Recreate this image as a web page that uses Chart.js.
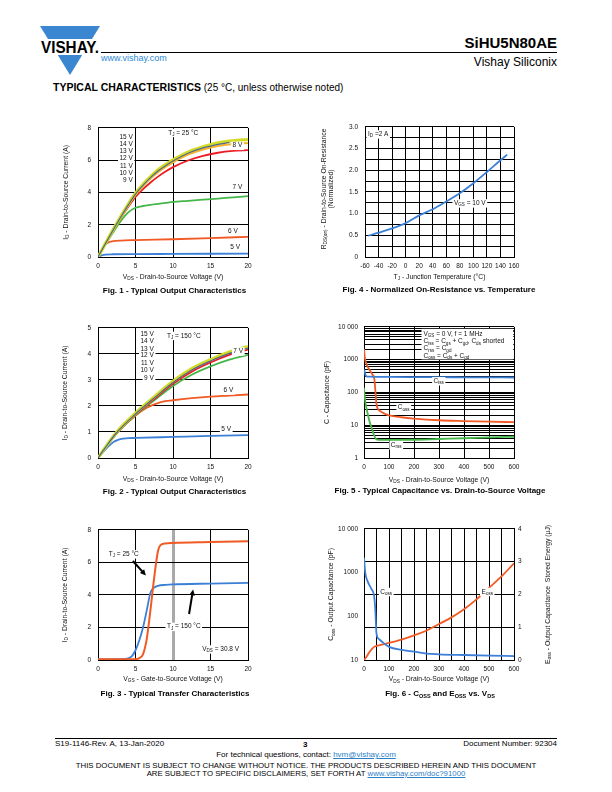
<!DOCTYPE html>
<html>
<head>
<meta charset="utf-8">
<title>SiHU5N80AE - Typical Characteristics</title>
<script src="https://cdn.jsdelivr.net/npm/chart.js@4.4.1/dist/chart.umd.min.js"></script>
<style>
  html, body { margin: 0; padding: 0; background: #fff; }
  body { position: relative; width: 612px; height: 792px; overflow: hidden; font-family: "Liberation Sans", Arial, sans-serif; color: #000; }
  .t { position: absolute; white-space: nowrap; line-height: 1; }
  .cap { position: absolute; width: 300px; text-align: center; font-weight: bold; font-size: 8px; line-height: 1; white-space: nowrap; }
  .cap sub { font-size: 5.5px; vertical-align: -1.5px; line-height: 0; }
  .rule { position: absolute; height: 0; border-top: 1px solid #000; }
  canvas { position: absolute; }
  a { color: #2d7fc8; }
</style>
</head>
<body>

<svg class="t" style="left:40px;top:26px" width="62" height="50">
  <polygon points="0,0 60,0 52,13 8,13" fill="#3b86d1"/>
  <polygon points="17.8,29 42.2,29 30,49" fill="#3b86d1"/>
  <text x="30" y="27" text-anchor="middle" font-family="Liberation Sans, Arial, sans-serif" font-weight="bold" font-size="16" textLength="58" lengthAdjust="spacingAndGlyphs">VISHAY.</text>
</svg>
<div class="rule" style="left:101px;top:52px;width:456px"></div>
<div class="t" style="left:101px;top:53.5px;font-size:9px;color:#2d8ad6">www.vishay.com</div>
<div class="t" style="right:55px;top:34.5px;font-size:15px;font-weight:bold">SiHU5N80AE</div>
<div class="t" style="right:55px;top:56px;font-size:12px">Vishay Siliconix</div>
<div class="t" style="left:53px;top:82px;font-size:10px"><b style="font-size:10.5px">TYPICAL CHARACTERISTICS</b> (25 °C, unless otherwise noted)</div>

<canvas id="fig1"></canvas>
<canvas id="fig4"></canvas>
<canvas id="fig2"></canvas>
<canvas id="fig5"></canvas>
<canvas id="fig3"></canvas>
<canvas id="fig6"></canvas>

<div class="cap" style="left:24.5px;top:287px">Fig. 1 - Typical Output Characteristics</div>
<div class="cap" style="left:289px;top:286px">Fig. 4 - Normalized On-Resistance vs. Temperature</div>
<div class="cap" style="left:24.5px;top:488px">Fig. 2 - Typical Output Characteristics</div>
<div class="cap" style="left:290px;top:487px">Fig. 5 - Typical Capacitance vs. Drain-to-Source Voltage</div>
<div class="cap" style="left:25px;top:690px">Fig. 3 - Typical Transfer Characteristics</div>
<div class="cap" style="left:290px;top:690px">Fig. 6 - C<sub>OSS</sub> and E<sub>OSS</sub> vs. V<sub>DS</sub></div>

<div class="rule" style="left:55px;top:738px;width:502px"></div>
<div class="t" style="left:55px;top:740px;font-size:8px">S19-1146-Rev. A, 13-Jan-2020</div>
<div class="t" style="left:303px;top:740.5px;font-size:8px;font-weight:bold">3</div>
<div class="t" style="right:55px;top:740px;font-size:8px">Document Number: 92304</div>
<div class="t" style="left:0;width:612px;text-align:center;top:751px;font-size:8px">For technical questions, contact: <a href="mailto:hvm@vishay.com">hvm@vishay.com</a></div>
<div class="t" style="left:0;width:612px;text-align:center;top:762px;font-size:7.8px">THIS DOCUMENT IS SUBJECT TO CHANGE WITHOUT NOTICE. THE PRODUCTS DESCRIBED HEREIN AND THIS DOCUMENT</div>
<div class="t" style="left:0;width:612px;text-align:center;top:770px;font-size:7.8px">ARE SUBJECT TO SPECIFIC DISCLAIMERS, SET FORTH AT <a href="#">www.vishay.com/doc?91000</a></div>

<script>
// ---- data ----

// Fig. 1 - output characteristics, TJ = 25 °C
const fig1Vds = [0, 1, 2, 3, 4, 5, 6, 7, 8, 9, 10, 12, 14, 16, 18, 20];
const fig1VdsShort = [0, 1, 2, 3, 4, 5, 6, 7, 8, 9, 10, 12, 14, 16, 17.5];
const fig1Id15V = [0, 0.85, 1.68, 2.48, 3.25, 3.95, 4.5, 4.98, 5.4, 5.73, 6.02, 6.5, 6.83, 7.07, 7.2, 7.28];
const fig1Id12V = [0, 0.84, 1.66, 2.45, 3.2, 3.9, 4.44, 4.92, 5.33, 5.66, 5.95, 6.43, 6.76, 6.98, 7.1];
const fig1Id9V = [0, 0.84, 1.65, 2.43, 3.17, 3.86, 4.4, 4.86, 5.26, 5.58, 5.87, 6.34, 6.66, 6.88, 7.0, 7.07];
const fig1Id8V = [0, 0.82, 1.62, 2.38, 3.08, 3.72, 4.2, 4.62, 4.98, 5.3, 5.57, 5.98, 6.27, 6.46, 6.57, 6.62];
const fig1Id7V = [0, 0.78, 1.52, 2.2, 2.75, 3.05, 3.16, 3.23, 3.29, 3.35, 3.41, 3.48, 3.55, 3.62, 3.7, 3.77];
const fig1Vds6 = [0, 0.5, 1, 1.5, 2, 3, 5, 10, 15, 20];
const fig1Id6V = [0, 0.4, 0.78, 0.93, 0.98, 1.02, 1.05, 1.1, 1.17, 1.25];
const fig1Vds5 = [0, 0.5, 1, 2, 5, 10, 15, 20];
const fig1Id5V = [0, 0.1, 0.15, 0.17, 0.18, 0.19, 0.2, 0.21];

// Fig. 2 - output characteristics, TJ = 150 °C
const fig2Vds = [0, 1, 2.5, 5, 7.5, 10, 12.5, 15, 17.5, 20];
const fig2Id15V = [0, 0.42, 1.0, 1.72, 2.35, 2.95, 3.43, 3.78, 4.07, 4.28];
const fig2Id12V = [0, 0.41, 0.98, 1.69, 2.31, 2.9, 3.38, 3.73, 4.02, 4.22];
const fig2Id8V = [0, 0.4, 0.96, 1.66, 2.27, 2.85, 3.32, 3.67, 3.96, 4.17];
const fig2Id7V = [0, 0.4, 0.95, 1.64, 2.22, 2.77, 3.2, 3.52, 3.78, 3.97];
const fig2Vds6 = [0, 1, 2.5, 5, 6.5, 7.5, 8.5, 10, 12.5, 15, 17.5, 20];
const fig2Id6V = [0, 0.4, 0.95, 1.63, 1.93, 2.06, 2.16, 2.22, 2.3, 2.36, 2.4, 2.44];
const fig2Vds5 = [0, 1, 2, 2.5, 3, 4, 5, 10, 15, 20];
const fig2Id5V = [0, 0.33, 0.6, 0.68, 0.73, 0.76, 0.77, 0.81, 0.85, 0.88];
const gateLabels = ['15 V', '14 V', '13 V', '12 V', '11 V', '10 V', '9 V'];

// Fig. 3 - transfer characteristics
const fig3Vgs25 = [0, 4, 5, 5.5, 6, 6.5, 7, 7.5, 8, 8.3, 9, 10, 15, 20];
const fig3Id25 = [0.04, 0.04, 0.05, 0.12, 0.35, 1.3, 3.1, 5.1, 6.7, 7.05, 7.17, 7.2, 7.25, 7.3];
const fig3Vgs150 = [0, 3.5, 4, 4.5, 5, 5.5, 6, 6.5, 7, 7.5, 8, 9, 10, 15, 20];
const fig3Id150 = [0.04, 0.05, 0.1, 0.22, 0.6, 1.2, 2.0, 3.05, 4.15, 4.45, 4.56, 4.62, 4.65, 4.7, 4.74];

// Fig. 4 - normalized on-resistance
const fig4Temp = [-55, -40, -20, 0, 20, 40, 60, 80, 100, 120, 140, 150];
const fig4Rds = [0.49, 0.56, 0.66, 0.78, 0.96, 1.1, 1.28, 1.47, 1.7, 1.96, 2.23, 2.36];

// Fig. 5 - capacitances
const fig5CissV = [0, 3, 6, 10, 20, 50, 100, 200, 300, 400, 500, 600];
const fig5Ciss = [500, 420, 340, 310, 304, 300, 297, 294, 292, 290, 288, 286];
const fig5CossV = [0, 3, 8, 15, 25, 35, 40, 43, 46, 50, 55, 65, 80, 100, 150, 200, 300, 400, 500, 600];
const fig5Coss = [2100, 1200, 800, 600, 450, 340, 290, 200, 100, 45, 32, 27, 23, 20, 17.5, 16, 14.2, 13.4, 12.8, 12.4];
const fig5CrssV = [0, 3, 6, 10, 15, 20, 25, 30, 40, 50, 70, 100, 200, 300, 400, 500, 600];
const fig5Crss = [140, 75, 48, 33, 22, 15, 11, 8.5, 5, 3.7, 3.55, 3.55, 3.6, 3.8, 4.0, 4.25, 4.45];

// Fig. 6 - Coss and Eoss
const fig6CossV = [0, 5, 15, 30, 40, 45, 50, 60, 80, 100, 150, 200, 250, 300, 400, 500, 600];
const fig6Coss = [2200, 1000, 620, 420, 300, 150, 40, 30, 24, 20, 17, 15.5, 14, 13.5, 13, 12.6, 12.3];
const fig6EossV = [0, 10, 20, 30, 40, 50, 100, 150, 200, 250, 300, 350, 400, 450, 500, 550, 600];
const fig6Eoss = [0, 0.1, 0.22, 0.32, 0.4, 0.43, 0.52, 0.62, 0.75, 0.9, 1.1, 1.3, 1.55, 1.85, 2.2, 2.55, 2.95];

// ---- tick values ----
const ticks0to20 = [0, 5, 10, 15, 20];
const ticksId8 = [0, 2, 4, 6, 8];
const ticksId5 = [0, 1, 2, 3, 4, 5];
const ticksTemp = [-60, -40, -20, 0, 20, 40, 60, 80, 100, 120, 140, 160];
const ticksRds = [0, 0.25, 0.5, 0.75, 1, 1.25, 1.5, 1.75, 2, 2.25, 2.5, 2.75, 3];
const ticksV100 = [0, 100, 200, 300, 400, 500, 600];
const ticksV50 = [0, 50, 100, 150, 200, 250, 300, 350, 400, 450, 500, 550, 600];
const decades5 = [1, 10, 100, 1000, 10000];
const decades6 = [10, 100, 1000, 10000];
const ticksEoss = [0, 1, 2, 3, 4];

// ---- drawing helpers ----
const FONT = '"Liberation Sans", Arial, sans-serif';
const TICK_SIZE = 6.5, TITLE_SIZE = 6.8, NOTE_SIZE = 6.5;
const BLUE = '#3b7fd6', ORANGE = '#f15a24', GREEN = '#45b649', RED = '#ec1c24';
const YELLOW = '#d3dc25', AMBER = '#f6b22c', SLATE = '#4f6690';

const logTicks = decs => decs.slice(0, -1).flatMap(d => [1, 2, 3, 4, 5, 6, 7, 8, 9].map(k => k * d)).concat(decs[decs.length - 1]);
const fmtBig = v => v >= 10000 ? '10 000' : String(v);

function parseRich(s) {
  const out = [], re = /_\{([^}]*)\}/g;
  let last = 0, m;
  while ((m = re.exec(s))) {
    if (m.index > last) out.push([s.slice(last, m.index), false]);
    out.push([m[1], true]);
    last = re.lastIndex;
  }
  if (last < s.length) out.push([s.slice(last), false]);
  return out;
}

function drawRich(ctx, s, x, y, size, align, bg) {
  const segs = parseRich(s);
  let w = 0;
  segs.forEach(([t, sub]) => { ctx.font = (sub ? size * 0.7 : size) + 'px ' + FONT; w += ctx.measureText(t).width; });
  let x0 = align === 'center' ? x - w / 2 : align === 'right' ? x - w : x;
  if (bg) { ctx.fillStyle = '#fff'; ctx.fillRect(x0 - 1.5, y - size * 0.62, w + 3, size * 1.3); }
  ctx.fillStyle = '#111';
  ctx.textAlign = 'left';
  ctx.textBaseline = 'middle';
  segs.forEach(([t, sub]) => {
    ctx.font = (sub ? size * 0.7 : size) + 'px ' + FONT;
    ctx.fillText(t, x0, sub ? y + size * 0.3 : y);
    x0 += ctx.measureText(t).width;
  });
}

const notesPlugin = items => ({
  id: 'notes',
  afterDraw(chart) {
    const ctx = chart.ctx, a = chart.chartArea, sx = chart.scales.x;
    ctx.save();
    for (const n of items) {
      const sy = chart.scales[n.axis || 'y'];
      if (n.kind === 'xtitle') {
        drawRich(ctx, n.text, (a.left + a.right) / 2, a.bottom + n.off, TITLE_SIZE, 'center');
      } else if (n.kind === 'ytitle' || n.kind === 'y2title') {
        ctx.save();
        ctx.translate(n.kind === 'ytitle' ? a.left - n.off : a.right + n.off, (a.top + a.bottom) / 2 + (n.shift || 0));
        ctx.rotate(-Math.PI / 2);
        drawRich(ctx, n.text, 0, 0, TITLE_SIZE, 'center');
        ctx.restore();
      } else if (n.kind === 'box') {
        const x1 = sx.getPixelForValue(n.x1), x2 = sx.getPixelForValue(n.x2);
        const y1 = sy.getPixelForValue(n.y1), y2 = sy.getPixelForValue(n.y2);
        ctx.fillStyle = '#fff';
        ctx.fillRect(x1, Math.min(y1, y2), x2 - x1, Math.abs(y2 - y1));
      } else if (n.kind === 'arrow') {
        const x1 = sx.getPixelForValue(n.x1), y1 = sy.getPixelForValue(n.y1);
        const x2 = sx.getPixelForValue(n.x2), y2 = sy.getPixelForValue(n.y2);
        const ang = Math.atan2(y2 - y1, x2 - x1), h = 6.5;
        ctx.strokeStyle = '#000'; ctx.fillStyle = '#000'; ctx.lineWidth = 2;
        ctx.beginPath();
        ctx.moveTo(x1, y1);
        ctx.lineTo(x2 - h * 0.7 * Math.cos(ang), y2 - h * 0.7 * Math.sin(ang));
        ctx.stroke();
        ctx.beginPath();
        ctx.moveTo(x2, y2);
        ctx.lineTo(x2 - h * Math.cos(ang - 0.45), y2 - h * Math.sin(ang - 0.45));
        ctx.lineTo(x2 - h * Math.cos(ang + 0.45), y2 - h * Math.sin(ang + 0.45));
        ctx.closePath();
        ctx.fill();
      } else {
        drawRich(ctx, n.text, sx.getPixelForValue(n.x), sy.getPixelForValue(n.y), NOTE_SIZE, n.align || 'left', n.bg);
      }
    }
    ctx.restore();
  }
});

function line(xs, ys, color, width, axis) {
  return {
    data: xs.map((x, i) => ({ x, y: ys[i] })),
    borderColor: color, borderWidth: width || 1.8,
    pointRadius: 0, fill: false, cubicInterpolationMode: 'monotone',
    yAxisID: axis || 'y'
  };
}

function axis(o) {
  return {
    type: o.type || 'linear',
    position: o.position,
    min: o.min, max: o.max,
    afterBuildTicks: s => { s.ticks = o.ticks.map(v => ({ value: v })); },
    grid: {
      display: o.grid !== false, drawTicks: false,
      color: o.gridColor || '#000', lineWidth: o.gridWidth || 1
    },
    border: { display: true, color: '#000', width: 1 },
    ticks: {
      autoSkip: false, maxRotation: 0, minRotation: 0,
      padding: o.pad, color: '#111',
      font: { family: FONT, size: TICK_SIZE },
      callback: o.label || (v => String(v))
    }
  };
}

function build(id, frame, datasets, scales, notes) {
  const cv = document.getElementById(id);
  const [l, t, r, b] = frame.plot;
  const w = r - l + frame.ml + frame.mr, h = b - t + frame.mt + frame.mb;
  cv.width = w; cv.height = h;
  cv.style.width = w + 'px'; cv.style.height = h + 'px';
  cv.style.left = (l - frame.ml) + 'px';
  cv.style.top = (t - frame.mt) + 'px';
  scales.x.afterFit = s => { s.height = frame.mb; };
  scales.y.afterFit = s => { s.width = frame.ml; };
  if (scales.y2) scales.y2.afterFit = s => { s.width = frame.mr; };
  return new Chart(cv, {
    type: 'line',
    data: { datasets },
    options: {
      responsive: false, animation: false, devicePixelRatio: 1,
      layout: { padding: { left: 0, top: frame.mt, right: scales.y2 ? 0 : frame.mr, bottom: 0 } },
      plugins: { legend: { display: false }, tooltip: { enabled: false } },
      scales
    },
    plugins: [notesPlugin(notes)]
  });
}

function gateNotes(xRight, rows) {
  return gateLabels.map((t, i) => ({ text: t, x: xRight, y: rows[i], align: 'right', bg: true }));
}

// ---- Fig. 1 ----
build('fig1', { plot: [98, 125, 248, 257], ml: 48, mr: 10, mt: 8, mb: 30 },
  [
    line(fig1VdsShort, fig1Id12V, SLATE, 1.2),
    line(fig1Vds, fig1Id15V, YELLOW, 3.2),
    line(fig1Vds, fig1Id9V, AMBER, 2),
    line(fig1Vds, fig1Id8V, RED, 1.8),
    line(fig1Vds, fig1Id7V, GREEN, 1.8),
    line(fig1Vds6, fig1Id6V, ORANGE, 1.8),
    line(fig1Vds5, fig1Id5V, BLUE, 1.8)
  ],
  {
    x: axis({ min: 0, max: 20, ticks: ticks0to20, pad: 5 }),
    y: axis({ min: 0, max: 8, ticks: ticksId8, pad: 7 })
  },
  [
    { kind: 'xtitle', text: 'V_{DS} - Drain-to-Source Voltage (V)', off: 20 },
    { kind: 'ytitle', text: 'I_{D} - Drain-to-Source Current (A)', off: 32 },
    ...gateNotes(4.65, [7.45, 7.02, 6.57, 6.1, 5.65, 5.21, 4.74]),
    { text: 'T_{J} = 25 °C', x: 9.36, y: 7.7, bg: true },
    { text: '8 V', x: 18.6, y: 6.9, align: 'center', bg: true },
    { text: '7 V', x: 18.6, y: 4.3, align: 'center', bg: true },
    { text: '6 V', x: 18.0, y: 1.58, align: 'center', bg: true },
    { text: '5 V', x: 18.3, y: 0.58, align: 'center', bg: true }
  ]);

// ---- Fig. 4 ----
build('fig4', { plot: [365, 124, 514, 257], ml: 50, mr: 12, mt: 8, mb: 30 },
  [line(fig4Temp, fig4Rds, BLUE, 1.8)],
  {
    x: axis({ min: -60, max: 160, ticks: ticksTemp, pad: 5 }),
    y: axis({ min: 0, max: 3, ticks: ticksRds, pad: 7, label: v => v === 0 ? '0' : (v * 2) % 1 === 0 ? v.toFixed(1) : '' })
  },
  [
    { kind: 'xtitle', text: 'T_{J} - Junction Temperature (°C)', off: 20 },
    { kind: 'ytitle', text: 'R_{DS(on)} - Drain-to-Source On-Resistance', off: 41, shift: -3 },
    { kind: 'ytitle', text: '(Normalized)', off: 34, shift: -3 },
    { text: 'I_{D} =2 A', x: -55.6, y: 2.83, bg: true },
    { text: 'V_{GS} = 10 V', x: 71.4, y: 1.24, bg: true }
  ]);

// ---- Fig. 2 ----
build('fig2', { plot: [98, 325, 248, 458], ml: 48, mr: 10, mt: 8, mb: 30 },
  [
    line(fig2Vds, fig2Id12V, SLATE, 1.2),
    line(fig2Vds, fig2Id15V, YELLOW, 3.2),
    line(fig2Vds, fig2Id8V, RED, 1.8),
    line(fig2Vds, fig2Id7V, GREEN, 1.8),
    line(fig2Vds6, fig2Id6V, ORANGE, 1.8),
    line(fig2Vds5, fig2Id5V, BLUE, 1.8)
  ],
  {
    x: axis({ min: 0, max: 20, ticks: ticks0to20, pad: 5 }),
    y: axis({ min: 0, max: 5, ticks: ticksId5, pad: 7 })
  },
  [
    { kind: 'xtitle', text: 'V_{DS} - Drain-to-Source Voltage (V)', off: 20.7 },
    { kind: 'ytitle', text: 'I_{D} - Drain-to-Source Current (A)', off: 33 },
    ...gateNotes(7.45, [4.74, 4.48, 4.18, 3.95, 3.65, 3.36, 3.06]),
    { text: 'T_{J} = 150 °C', x: 9.2, y: 4.7, bg: true },
    { text: '7 V', x: 18.7, y: 4.1, align: 'center', bg: true },
    { text: '6 V', x: 17.4, y: 2.6, align: 'center', bg: true },
    { text: '5 V', x: 17.1, y: 1.09, align: 'center', bg: true }
  ]);

// ---- Fig. 5 ----
build('fig5', { plot: [364, 325, 514, 458], ml: 50, mr: 12, mt: 8, mb: 30 },
  [
    line(fig5CissV, fig5Ciss, BLUE, 1.8),
    line(fig5CossV, fig5Coss, ORANGE, 1.8),
    line(fig5CrssV, fig5Crss, GREEN, 1.8)
  ],
  {
    x: axis({ min: 0, max: 600, ticks: ticksV100, pad: 5 }),
    y: axis({ type: 'logarithmic', min: 1, max: 10000, ticks: logTicks(decades5), pad: 6,
      label: v => decades5.includes(v) ? fmtBig(v) : '' })
  },
  [
    { kind: 'xtitle', text: 'V_{DS} - Drain-to-Source Voltage (V)', off: 21.7 },
    { kind: 'ytitle', text: 'C - Capacitance (pF)', off: 36.6 },
    { kind: 'box', x1: 230, x2: 597, y1: 1021, y2: 8740 },
    { text: 'V_{GS} = 0 V, f = 1 MHz', x: 238, y: 6200 },
    { text: 'C_{iss} = C_{gs} + C_{gd}, C_{ds} shorted', x: 238, y: 3630 },
    { text: 'C_{rss} = C_{gd}', x: 238, y: 2190 },
    { text: 'C_{oss} = C_{ds} + C_{gd}', x: 238, y: 1290 },
    { text: 'C_{iss}', x: 299, y: 222, align: 'center', bg: true },
    { text: 'C_{oss}', x: 159, y: 34.3, align: 'center', bg: true },
    { text: 'C_{rss}', x: 129, y: 2.46, align: 'center', bg: true }
  ]);

// ---- Fig. 3 ----
const fig3X = axis({ min: 0, max: 20, ticks: ticks0to20, pad: 5 });
// the 10 V gate line is a heavier grey rule in the original
fig3X.grid.color = ctx => ctx.tick && ctx.tick.value === 10 ? '#a9a9a9' : '#000';
fig3X.grid.lineWidth = ctx => ctx.tick && ctx.tick.value === 10 ? 3 : 1;
build('fig3', { plot: [98, 527, 248, 660], ml: 48, mr: 10, mt: 8, mb: 30 },
  [
    line(fig3Vgs25, fig3Id25, ORANGE, 2),
    line(fig3Vgs150, fig3Id150, BLUE, 1.8)
  ],
  {
    x: fig3X,
    y: axis({ min: 0, max: 8, ticks: ticksId8, pad: 7 })
  },
  [
    { kind: 'xtitle', text: 'V_{GS} - Gate-to-Source Voltage (V)', off: 19 },
    { kind: 'ytitle', text: 'I_{D} - Drain-to-Source Current (A)', off: 33 },
    { text: 'T_{J} = 25 °C', x: 1.43, y: 6.51, bg: true },
    { text: 'T_{J} = 150 °C', x: 9.2, y: 2.05, bg: true },
    { text: 'V_{DS} = 30.8 V', x: 13.9, y: 0.66, bg: true },
    { kind: 'arrow', x1: 4.65, y1: 6.09, x2: 6.39, y2: 5.19 },
    { kind: 'arrow', x1: 12.14, y1: 2.83, x2: 12.68, y2: 4.34 }
  ]);

// ---- Fig. 6 ----
build('fig6', { plot: [364, 527, 514, 660], ml: 50, mr: 45, mt: 8, mb: 30 },
  [
    line(fig6CossV, fig6Coss, BLUE, 1.8, 'y'),
    line(fig6EossV, fig6Eoss, ORANGE, 1.8, 'y2')
  ],
  {
    x: axis({ min: 0, max: 600, ticks: ticksV50, pad: 5, label: v => v % 100 === 0 ? String(v) : '' }),
    y: axis({ type: 'logarithmic', position: 'left', min: 10, max: 10000, ticks: decades6, pad: 6, grid: false, label: fmtBig }),
    y2: axis({ position: 'right', min: 0, max: 4, ticks: ticksEoss, pad: 4 })
  },
  [
    { kind: 'xtitle', text: 'V_{DS} - Drain-to-Source Voltage (V)', off: 19.3 },
    { kind: 'ytitle', text: 'C_{oss} - Output Capacitance (pF)', off: 32.6 },
    { kind: 'y2title', text: 'E_{oss} - Output Capacitance  Stored Energy (µJ)', off: 34 },
    { text: 'C_{oss}', x: 89, y: 2.08, axis: 'y2', align: 'center', bg: true },
    { text: 'E_{oss}', x: 493, y: 2.08, axis: 'y2', align: 'center', bg: true }
  ]);
</script>
</body>
</html>
